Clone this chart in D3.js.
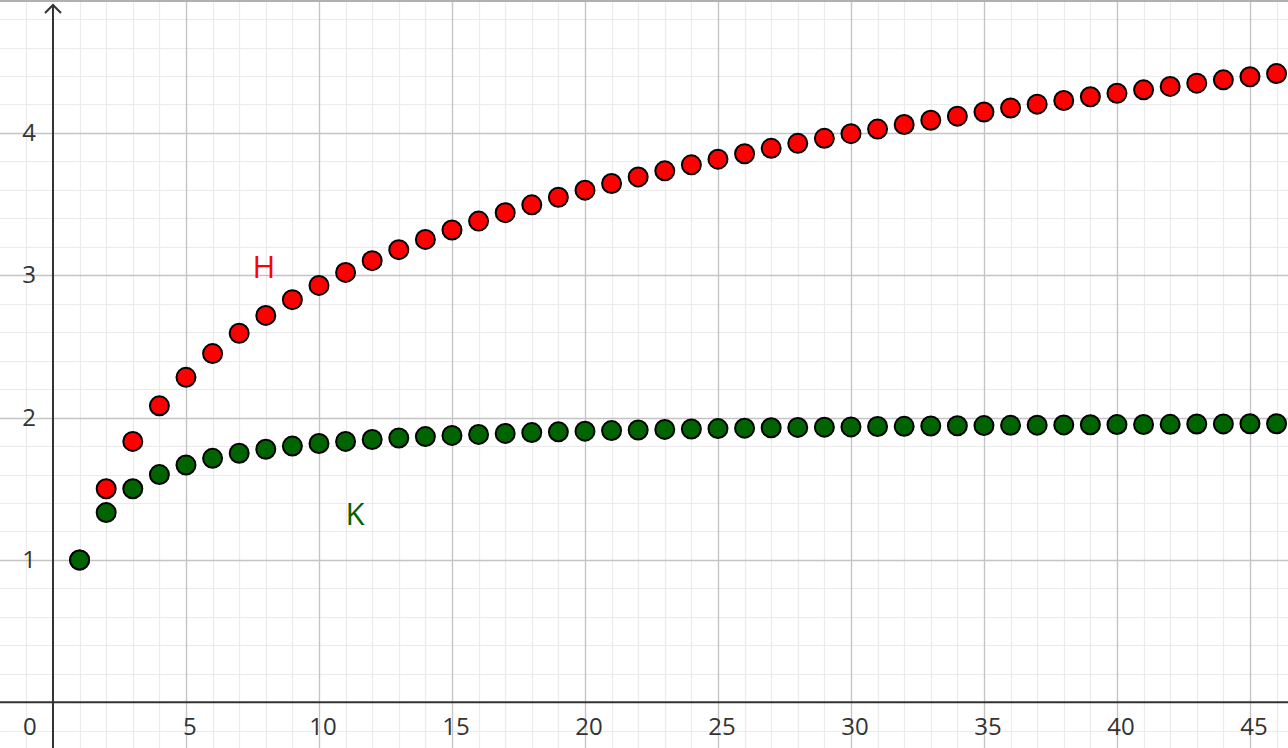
<!DOCTYPE html>
<html><head><meta charset="utf-8">
<script src="https://cdn.jsdelivr.net/npm/d3@7"></script>
<style>html,body{margin:0;padding:0;background:#fff;overflow:hidden}</style>
</head><body>
<svg id="c" width="1288" height="748"></svg>
<script>
const nValues = d3.range(1, 47);
const hValues = [1.000,1.500,1.833,2.083,2.283,2.450,2.593,2.718,2.829,2.929,3.020,3.103,3.180,3.252,3.318,3.381,3.440,3.495,3.548,3.598,3.645,3.691,3.734,3.776,3.816,3.854,3.892,3.927,3.962,3.995,4.027,4.059,4.089,4.118,4.147,4.175,4.202,4.228,4.254,4.279,4.303,4.327,4.350,4.373,4.395,4.417];
const kValues = [1.000,1.333,1.500,1.600,1.667,1.714,1.750,1.778,1.800,1.818,1.833,1.846,1.857,1.867,1.875,1.882,1.889,1.895,1.900,1.905,1.909,1.913,1.917,1.920,1.923,1.926,1.929,1.931,1.933,1.935,1.938,1.939,1.941,1.943,1.944,1.946,1.947,1.949,1.950,1.951,1.952,1.953,1.955,1.956,1.957,1.957];
const xTicks = [0,5,10,15,20,25,30,35,40,45];
const yTicks = [1,2,3,4];

const W = 1288, H = 748;
const svg = d3.select("#c");
const x = d3.scaleLinear().domain([-1.992, 46.43]).range([0, W]);
const y = d3.scaleLinear().domain([-0.321, 4.934]).range([H, 0]);

// minor grid
const g = svg.append("g");
g.selectAll(".mx").data(d3.range(-1, 47)).join("line")
  .attr("x1", d => Math.round(x(d)) + 0.5).attr("x2", d => Math.round(x(d)) + 0.5)
  .attr("y1", 0).attr("y2", H).attr("stroke", "#ebebeb").attr("stroke-width", 1.2);
g.selectAll(".my").data(d3.range(-1, 25).map(i => i * 0.2)).join("line")
  .attr("y1", d => Math.round(y(d)) + 0.5).attr("y2", d => Math.round(y(d)) + 0.5)
  .attr("x1", 0).attr("x2", W).attr("stroke", "#ebebeb").attr("stroke-width", 1.2);
// major grid
g.selectAll(".Mx").data(d3.range(5, 50, 5)).join("line")
  .attr("x1", d => Math.round(x(d)) + 0.5).attr("x2", d => Math.round(x(d)) + 0.5)
  .attr("y1", 0).attr("y2", H).attr("stroke", "#c4c4c4").attr("stroke-width", 1.3);
g.selectAll(".My").data([1,2,3,4]).join("line")
  .attr("y1", d => Math.round(y(d)) + 0.5).attr("y2", d => Math.round(y(d)) + 0.5)
  .attr("x1", 0).attr("x2", W).attr("stroke", "#c4c4c4").attr("stroke-width", 1.3);
// top frame
svg.append("line").attr("x1", 0).attr("x2", W).attr("y1", 1).attr("y2", 1).attr("stroke", "#b0b0b0").attr("stroke-width", 2);

// axes
const x0 = x(0), y0 = y(0);
svg.append("line").attr("x1", 0).attr("x2", W).attr("y1", y0).attr("y2", y0).attr("stroke", "#333").attr("stroke-width", 2);
svg.append("line").attr("x1", x0).attr("x2", x0).attr("y1", 5).attr("y2", H).attr("stroke", "#333").attr("stroke-width", 2);
svg.append("path").attr("d", `M${x0-8},${13} L${x0},${5} L${x0+8},${13}`).attr("fill", "none").attr("stroke", "#333").attr("stroke-width", 2);

// tick labels
const font = "'Open Sans', 'Liberation Sans', sans-serif";
svg.selectAll(".xt").data(xTicks).join("text")
  .attr("x", d => d === 0 ? x0 - 23 : x(d) + 4).attr("y", y0 + 33)
  .attr("text-anchor", "middle").attr("font-family", font).attr("font-size", 24).attr("fill", "#333")
  .text(d => d);
svg.selectAll(".yt").data(yTicks).join("text")
  .attr("x", x0 - 17).attr("y", d => y(d) + 8)
  .attr("text-anchor", "end").attr("font-family", font).attr("font-size", 24).attr("fill", "#333")
  .text(d => d);

// points
svg.append("g").selectAll("circle").data(nValues.map((n, i) => [n, hValues[i]])).join("circle")
  .attr("cx", d => x(d[0])).attr("cy", d => y(d[1])).attr("r", 9.5)
  .attr("fill", "#ff0000").attr("stroke", "#000").attr("stroke-width", 2);
svg.append("g").selectAll("circle").data(nValues.map((n, i) => [n, kValues[i]])).join("circle")
  .attr("cx", d => x(d[0])).attr("cy", d => y(d[1])).attr("r", 9.5)
  .attr("fill", "#006400").attr("stroke", "#000").attr("stroke-width", 2);

// labels
svg.append("text").attr("x", x(7.5)).attr("y", y(2.98)).attr("font-family", font).attr("font-size", 31).attr("fill", "#ff0000").text("H");
svg.append("text").attr("x", x(11.0)).attr("y", y(1.245)).attr("font-family", font).attr("font-size", 31).attr("fill", "#006400").text("K");
</script>
</body></html>
